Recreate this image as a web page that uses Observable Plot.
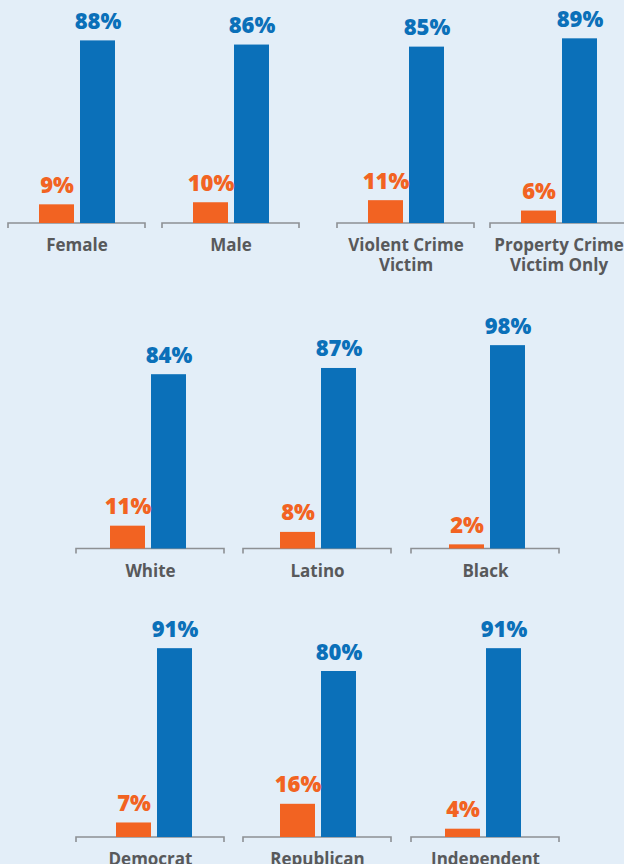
<!DOCTYPE html>
<html><head><meta charset="utf-8">
<script src="https://cdn.jsdelivr.net/npm/d3@7"></script>
<script src="https://cdn.jsdelivr.net/npm/@observablehq/plot@0.6"></script>
<style>
html,body{margin:0;padding:0;background:#e3eef8;}
#chart{position:relative;width:624px;height:864px;overflow:hidden;background:#e3eef8;}
#chart svg{position:absolute;overflow:visible;}
</style></head><body><div id="chart"></div>
<script>
// ---- data ----
const categories = ["Female", "Male", "Violent Crime\nVictim", "Property Crime\nVictim Only",
  "White", "Latino", "Black", "Democrat", "Republican", "Independent"];
const series = ["No", "Yes"];
const noValues = [9, 10, 11, 6, 11, 8, 2, 7, 16, 4];
const yesValues = [88, 86, 85, 89, 84, 87, 98, 91, 80, 91];
const rowOf = [0, 0, 0, 0, 1, 1, 1, 2, 2, 2];

// ---- layout ----
const rowTop = [0, 300, 590];
const rowBaseline = [223, 548.5, 837];
const labelOffset = [13, 14, 13];
const pxPer100 = 207.5;
const bracketLeft = [8, 162, 337, 490, 76, 243, 411, 76, 243, 411];
const bracketWidth = [137, 137, 137, 137, 148, 148, 148, 148, 148, 148];
const barShift = [0.5, 0, 0, 0, -2.5, 0.5, 2, 3.5, 0.5, -2.5];
const pad = 40;
const colors = ["#f26322", "#0b70b9"];
const labelColor = "#58595b";
const bracketColor = "#8d9094";

const chart = document.getElementById("chart");

categories.forEach((cat, i) => {
  const r = rowOf[i];
  const data = series.map((s, k) => ({series: s, value: k ? yesValues[i] : noValues[i]}));
  const marginTop = rowBaseline[r] - pxPer100 - rowTop[r];
  const marginBottom = 60;
  const height = marginTop + pxPer100 + marginBottom;
  const width = bracketWidth[i] + 2 * pad;
  const cx = pad + bracketWidth[i] / 2 + barShift[i];

  const bracket = (index, scales, values, dims) => {
    const y0 = scales.y(0);
    const x1 = dims.marginLeft, x2 = dims.width - dims.marginRight;
    return d3.create("svg:path")
      .attr("d", `M${x1},${y0 + 5}V${y0}H${x2}V${y0 + 5}`)
      .attr("fill", "none")
      .attr("stroke", bracketColor)
      .attr("stroke-width", 1.6)
      .node();
  };

  const svg = Plot.plot({
    width, height, marginTop, marginBottom, marginLeft: pad, marginRight: pad,
    style: {background: "transparent", fontFamily: "'Open Sans', sans-serif", overflow: "visible"},
    x: {domain: series, range: [cx - 41, cx + 41], padding: 0, axis: null},
    y: {domain: [0, 100], axis: null},
    color: {domain: series, range: colors},
    marks: [
      bracket,
      Plot.barY(data, {x: "series", y: "value", fill: "series", insetLeft: 3, insetRight: 3}),
      Plot.text(data, {x: "series", y: "value", text: d => d.value + "%", fill: "series",
        dy: -12, lineAnchor: "bottom", fontSize: 22, fontWeight: 800}),
      Plot.text([cat], {y: () => 0, text: d => d, lineAnchor: "top", dy: labelOffset[r],
        fontSize: 17, fontWeight: 700, fill: labelColor, lineHeight: 1.2})
    ]
  });
  svg.style.left = (bracketLeft[i] - pad) + "px";
  svg.style.top = rowTop[r] + "px";
  svg.style.maxWidth = "none";
  chart.appendChild(svg);
});
</script>
</body></html>
